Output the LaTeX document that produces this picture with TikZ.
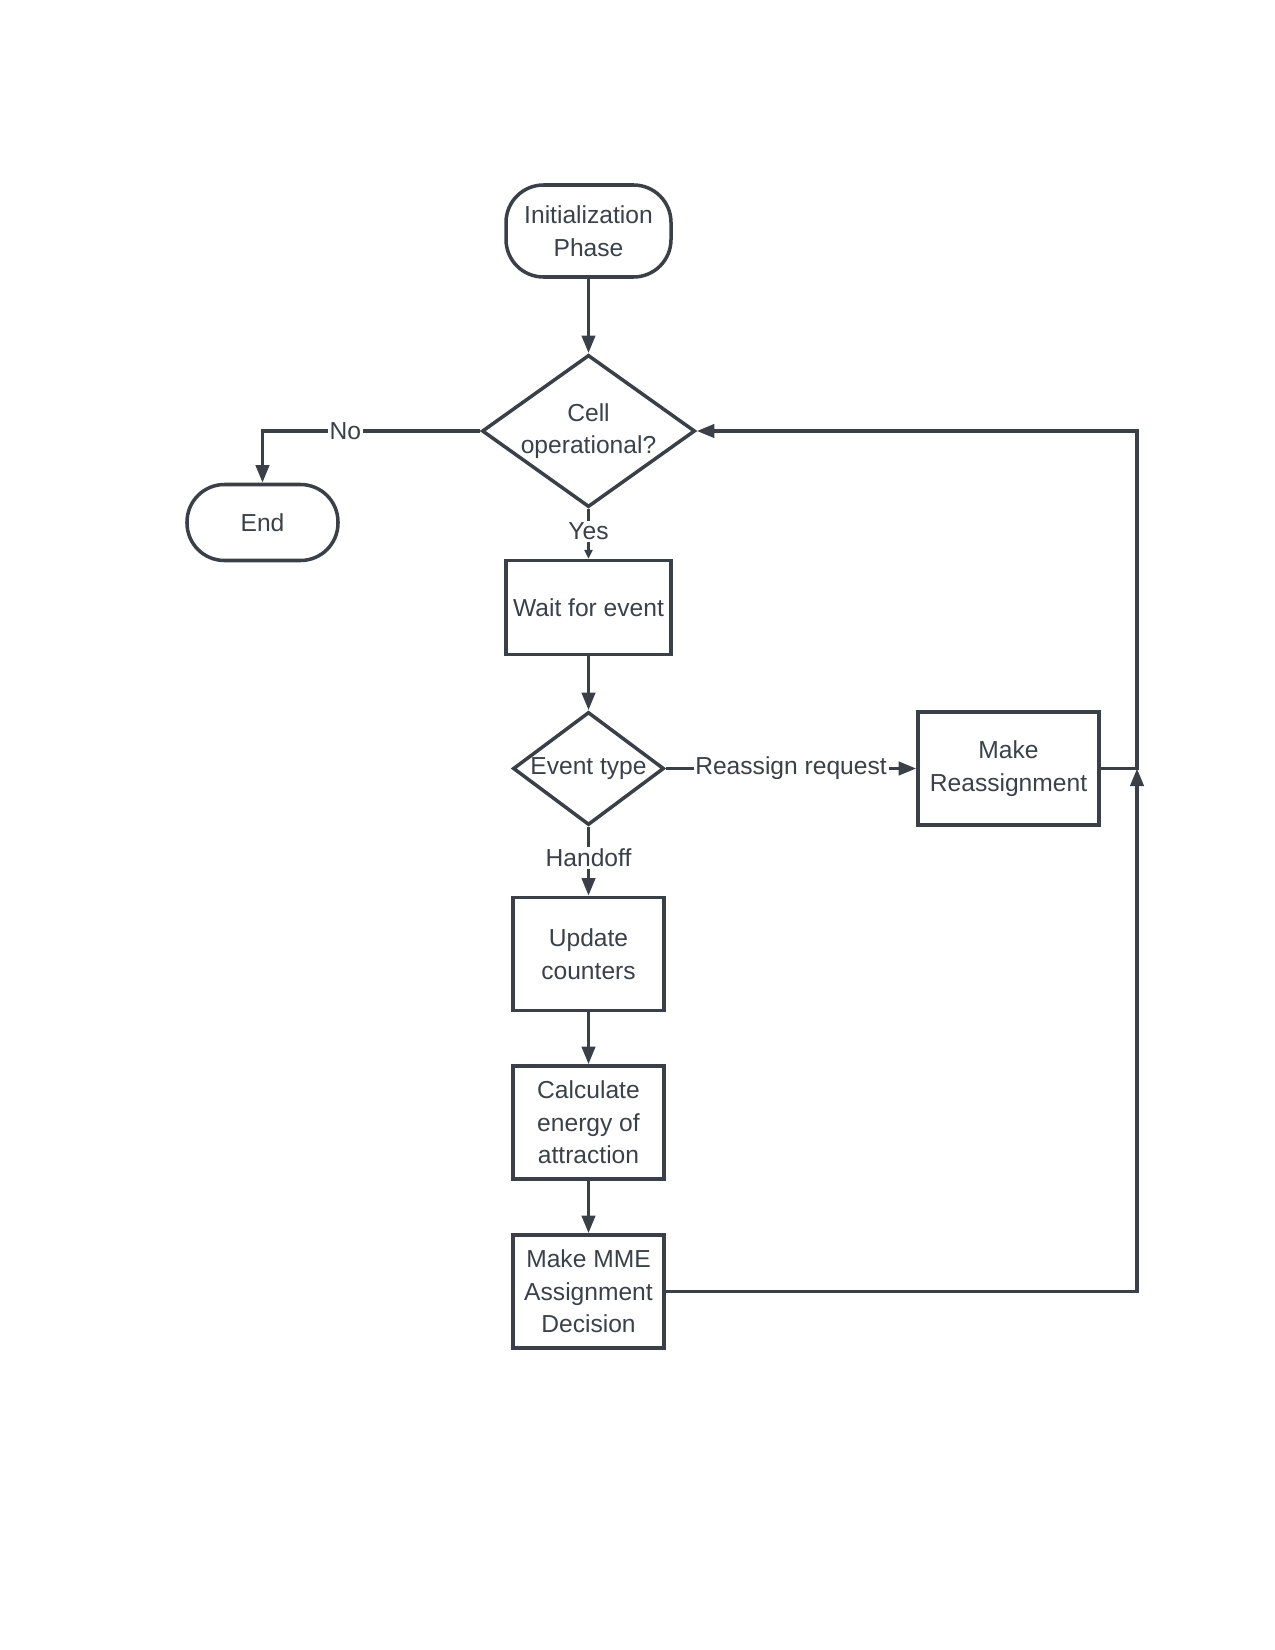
\documentclass[tikz,border=0pt]{standalone}
\usepackage{fontspec}
\setmainfont{Liberation Sans}
\usepackage{xcolor}
\definecolor{mLine}{HTML}{3B4048}
\definecolor{mText}{HTML}{3A414A}
\usetikzlibrary{positioning,arrows.meta,shapes.geometric}

\begin{document}
\begin{tikzpicture}[font=\fontsize{14}{18.5}\selectfont, text=mText, line width=2pt, draw=mLine,
  every node/.style={align=center},
  term/.style={draw=mLine, rounded corners=0.75cm, minimum width=3.3cm, minimum height=1.84cm},
  proc/.style={draw=mLine, minimum width=3.02cm, minimum height=2.26cm, inner sep=1pt},
  dec/.style={draw=mLine, diamond, inner sep=0pt, shape aspect=1.4},
  lbl/.style={fill=white, inner sep=1pt},
  arr/.style={mLine, -{Triangle[length=10pt,width=7.5pt]}},
  arrsmall/.style={mLine, -{Triangle[length=5pt,width=4.5pt]}}]
\useasboundingbox (0,0) rectangle (25.5,-33);
\node[term] (Init) at (11.77,-4.62) {Initialization\\Phase};
\node[dec, minimum width=4.1cm, minimum height=2.94cm] (Cell) at (11.77,-8.62) {Cell\\operational?};
\node[term, minimum width=3.02cm, minimum height=1.52cm] (End) at (5.25,-10.45) {End};
\node[proc, minimum width=3.3cm, minimum height=1.88cm] (Wait) at (11.77,-12.15) {Wait for event};
\node[dec, minimum width=3.02cm, minimum height=2.26cm] (Event) at (11.77,-15.37) {Event type};
\node[proc, minimum width=3.62cm] (Reas) at (20.17,-15.37) {Make\\Reassignment};
\node[proc] (Upd) at (11.77,-19.08) {Update\\counters};
\node[proc] (Calc) at (11.77,-22.45) {Calculate\\energy of\\attraction};
\node[proc] (Mme) at (11.77,-25.83) {Make MME\\Assignment\\Decision};
\coordinate (Join) at (22.74,-15.37);

\draw[arr] (Init)--(Cell);
\draw[arr] (Cell.west) -| node[lbl, pos=0.31] {No} (End.north);
\draw[arrsmall] (Cell)-- node[lbl, pos=0.45] {Yes} (Wait);
\draw[arr] (Wait)--(Event);
\draw[arr] (Event)-- node[lbl, pos=0.5] {Reassign request} (Reas);
\draw[arr] (Event)-- node[lbl, pos=0.45] {Handoff} (Upd);
\draw[arr] (Upd)--(Calc);
\draw[arr] (Calc)--(Mme);
\draw[arr] (Mme.east) -| (Join);
\draw[arr] (Reas.east) -- (Join) |- (Cell.east);
\end{tikzpicture}
\end{document}
